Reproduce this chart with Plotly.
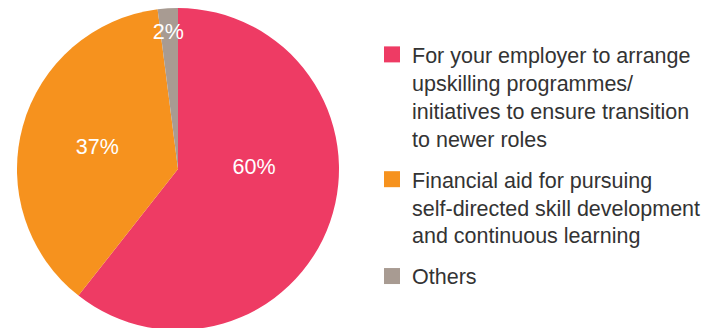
import plotly.graph_objects as go

# Share of respondents by preferred support (%)
labels = [
    "For your employer to arrange<br>upskilling programmes/<br>initiatives to ensure transition<br>to newer roles",
    "Financial aid for pursuing<br>self-directed skill development<br>and continuous learning",
    "Others",
]
values = [60, 37, 2]
colors = ["#EE3B64", "#F6921E", "#A89B92"]

FONT = "Liberation Sans, Arial, Helvetica, sans-serif"

fig = go.Figure()

# blank lines nudge the slice labels to where the original had them
fig.add_trace(go.Pie(
    labels=labels,
    values=values,
    marker=dict(colors=colors, line=dict(width=0)),
    sort=False,
    direction="clockwise",
    rotation=0,
    texttemplate=["%{value}%<br>\u00a0<br>\u00a0", "%{value}%", "\u00a0<br>%{value}%"],
    textposition="inside",
    insidetextorientation="horizontal",
    insidetextfont=dict(color="white", size=21.5, family=FONT),
    domain=dict(x=[0.0125, 0.461], y=[0.018, 1]),
    showlegend=False,
    hoverinfo="label+percent",
))

# legend entries (one group each so the gap between items can be set)
for i, (lab, col) in enumerate(zip(labels, colors)):
    fig.add_trace(go.Scatter(
        x=[None], y=[None],
        mode="markers",
        name=lab,
        legendgroup=f"g{i}",
        marker=dict(symbol="square", size=18, color=col, line=dict(width=0)),
        hoverinfo="skip",
    ))

fig.update_layout(
    width=718,
    height=328,
    margin=dict(l=0, r=0, t=0, b=0),
    paper_bgcolor="white",
    plot_bgcolor="white",
    uniformtext=dict(mode="show", minsize=21),
    showlegend=True,
    xaxis=dict(visible=False),
    yaxis=dict(visible=False),
    legend=dict(
        x=0.507,
        y=0.921,
        xanchor="left",
        yanchor="top",
        valign="top",
        font=dict(family=FONT, size=21.5, color="#333333"),
        tracegroupgap=10,
        itemwidth=30,
        itemsizing="trace",
        traceorder="grouped",
    ),
)

fig.write_html("out.html")
